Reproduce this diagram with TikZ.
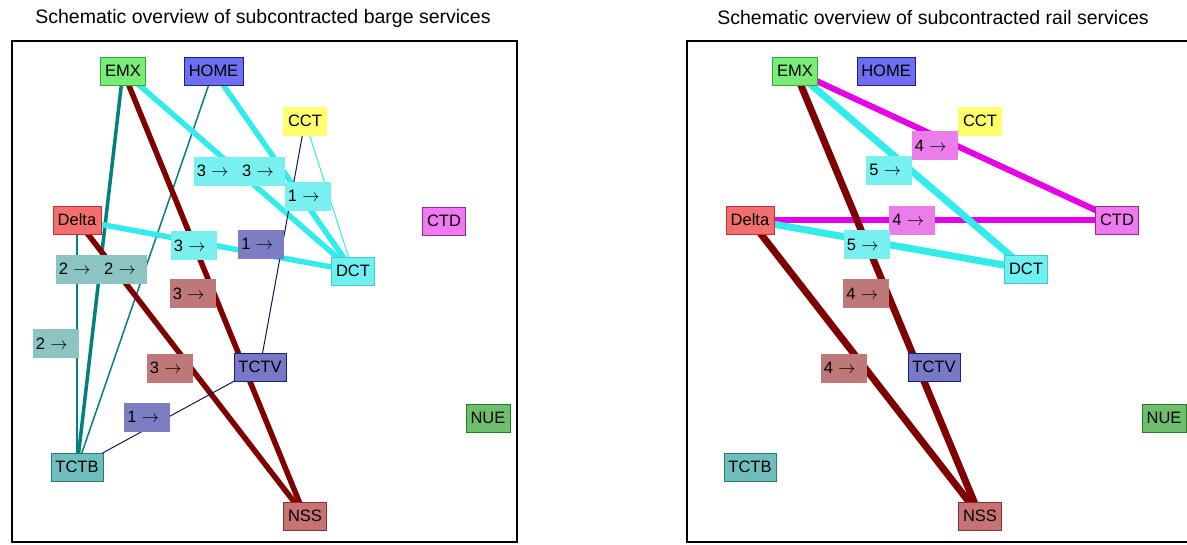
\documentclass[tikz,border=0pt]{standalone}
\usepackage{fontspec}
\setmainfont{Liberation Sans}
\usetikzlibrary{positioning,calc,backgrounds}

\definecolor{emxfill}{RGB}{120,235,120}
\definecolor{emxdraw}{RGB}{50,170,50}
\definecolor{homefill}{RGB}{110,110,240}
\definecolor{homedraw}{RGB}{30,30,130}
\definecolor{cctfill}{RGB}{255,255,110}
\definecolor{deltafill}{RGB}{245,110,110}
\definecolor{deltadraw}{RGB}{190,50,50}
\definecolor{ctdfill}{RGB}{240,120,240}
\definecolor{ctddraw}{RGB}{150,40,150}
\definecolor{dctfill}{RGB}{110,240,240}
\definecolor{dctdraw}{RGB}{70,200,200}
\definecolor{tctvfill}{RGB}{120,120,200}
\definecolor{tctvdraw}{RGB}{30,30,110}
\definecolor{tctbfill}{RGB}{110,190,190}
\definecolor{tctbdraw}{RGB}{40,120,120}
\definecolor{nssfill}{RGB}{200,115,115}
\definecolor{nssdraw}{RGB}{130,50,50}
\definecolor{nuefill}{RGB}{110,190,110}
\definecolor{nuedraw}{RGB}{40,120,40}
% connector colours
\definecolor{teallink}{RGB}{0,128,128}
\definecolor{maroonlink}{RGB}{128,0,0}
\definecolor{cyanlink}{RGB}{50,235,235}
\definecolor{navylink}{RGB}{20,20,90}
\definecolor{magentalink}{RGB}{230,0,230}
% label colours
\definecolor{tctblbl}{RGB}{140,195,195}
\definecolor{nsslbl}{RGB}{190,120,120}
\definecolor{dctlbl}{RGB}{120,240,240}
\definecolor{tctvlbl}{RGB}{125,125,195}
\definecolor{ctdlbl}{RGB}{235,125,235}

\begin{document}
\begin{tikzpicture}[
    x=1pt, y=-1pt,
    term/.style={rectangle, draw, inner xsep=4.5pt, inner ysep=0pt, minimum height=28pt, font=\fontsize{16.5}{18}\selectfont},
    lbl/.style={rectangle, inner xsep=3pt, inner ysep=0pt, text width=40pt, minimum height=29pt, align=left, anchor=east, xshift=2pt, font=\fontsize{16.5}{18}\selectfont},
    link/.style={line width=5.5pt},
    frame/.style={draw, line width=1.2pt},
    title/.style={font=\fontsize{19.5}{22}\selectfont}
]

\clip (0,0) rectangle (1187,544);

% Frames and titles
\draw[frame] (12,41) rectangle (517,542);
\draw[frame] (687,41) rectangle (1200,542);
\node[title] (btitle) at (263,18) {Schematic overview of subcontracted barge services};
\node[title] (rtitle) at (933,18) {Schematic overview of subcontracted rail services};

% Barge terminals
\node[term, fill=emxfill, draw=emxdraw] (bemx) at (123,71) {EMX};
\node[term, fill=homefill, draw=homedraw] (bhome) at (213.5,71) {HOME};
\node[term, fill=cctfill, draw=cctfill] (bcct) at (305,121) {CCT};
\node[term, fill=deltafill, draw=deltadraw] (bdelta) at (77,220) {Delta};
\node[term, fill=ctdfill, draw=ctddraw] (bctd) at (444,221) {CTD};
\node[term, fill=dctfill, draw=dctdraw] (bdct) at (353,271) {DCT};
\node[term, fill=tctvfill, draw=tctvdraw] (btctv) at (260,367) {TCTV};
\node[term, fill=tctbfill, draw=tctbdraw] (btctb) at (77,467) {TCTB};
\node[term, fill=nssfill, draw=nssdraw] (bnss) at (305,516) {NSS};
\node[term, fill=nuefill, draw=nuedraw] (bnue) at (488,418) {NUE};

% Rail terminals
\node[term, fill=emxfill, draw=emxdraw] (remx) at (795,71) {EMX};
\node[term, fill=homefill, draw=homedraw] (rhome) at (886,71) {HOME};
\node[term, fill=cctfill, draw=cctfill] (rcct) at (980,121) {CCT};
\node[term, fill=deltafill, draw=deltadraw] (rdelta) at (750,220) {Delta};
\node[term, fill=ctdfill, draw=ctddraw] (rctd) at (1117,220) {CTD};
\node[term, fill=dctfill, draw=dctdraw] (rdct) at (1026,269) {DCT};
\node[term, fill=tctvfill, draw=tctvdraw] (rtctv) at (934,367) {TCTV};
\node[term, fill=tctbfill, draw=tctbdraw] (rtctb) at (750,467) {TCTB};
\node[term, fill=nssfill, draw=nssdraw] (rnss) at (980,516) {NSS};
\node[term, fill=nuefill, draw=nuedraw] (rnue) at (1164,418) {NUE};

% Barge counts
\node[lbl, fill=tctblbl] (bl1) at ($(bemx.center)!0.5!(btctb.center)$) {2 $\rightarrow$};
\node[lbl, fill=tctblbl] (bl2) at ($(bhome.center)!0.5!(btctb.center)$) {2 $\rightarrow$};
\node[lbl, fill=tctblbl] (bl3) at ($(bdelta.center)!0.5!(btctb.center)$) {2 $\rightarrow$};
\node[lbl, fill=nsslbl] (bl4) at ($(bemx.center)!0.5!(bnss.center)$) {3 $\rightarrow$};
\node[lbl, fill=nsslbl] (bl5) at ($(bdelta.center)!0.5!(bnss.center)$) {3 $\rightarrow$};
\node[lbl, fill=dctlbl] (bl6) at ($(bemx.center)!0.5!(bdct.center)$) {3 $\rightarrow$};
\node[lbl, fill=dctlbl] (bl7) at ($(bhome.center)!0.5!(bdct.center)$) {3 $\rightarrow$};
\node[lbl, fill=dctlbl] (bl8) at ($(bdelta.center)!0.5!(bdct.center)$) {3 $\rightarrow$};
\node[lbl, fill=dctlbl] (bl9) at ($(bcct.center)!0.5!(bdct.center)$) {1 $\rightarrow$};
\node[lbl, fill=tctvlbl] (bl10) at ($(bcct.center)!0.5!(btctv.center)$) {1 $\rightarrow$};
\node[lbl, fill=tctvlbl] (bl11) at ($(btctb.center)!0.5!(btctv.center)$) {1 $\rightarrow$};

% Rail counts
\node[lbl, fill=ctdlbl] (rl1) at ($(remx.center)!0.5!(rctd.center)$) {4 $\rightarrow$};
\node[lbl, fill=ctdlbl] (rl2) at ($(rdelta.center)!0.5!(rctd.center)$) {4 $\rightarrow$};
\node[lbl, fill=dctlbl] (rl3) at ($(remx.center)!0.5!(rdct.center)$) {5 $\rightarrow$};
\node[lbl, fill=dctlbl] (rl4) at ($(rdelta.center)!0.5!(rdct.center)$) {5 $\rightarrow$};
\node[lbl, fill=nsslbl] (rl5) at ($(remx.center)!0.5!(rnss.center)$) {4 $\rightarrow$};
\node[lbl, fill=nsslbl] (rl6) at ($(rdelta.center)!0.5!(rnss.center)$) {4 $\rightarrow$};

% Connectors
\begin{scope}[on background layer]
\fill[white] (0,0) rectangle (1187,544);
\draw[link, teallink, line width=3.5pt] (bemx.center) -- (btctb.center);
\draw[link, teallink, line width=1.5pt] (bhome.center) -- (btctb.center);
\draw[link, teallink, line width=2.5pt] (bdelta.center) -- (btctb.center);
\draw[link, maroonlink] (bemx.center) -- (bnss.center);
\draw[link, maroonlink] (bdelta.center) -- (bnss.center);
\draw[link, cyanlink] (bemx.center) -- (bdct.center);
\draw[link, cyanlink] (bhome.center) -- (bdct.center);
\draw[link, cyanlink] (bdelta.center) -- (bdct.center);
\draw[link, cyanlink, line width=1pt] (bcct.center) -- (bdct.center);
\draw[link, navylink, line width=1pt] (bcct.center) -- (btctv.center);
\draw[link, navylink, line width=1pt] (btctb.center) -- (btctv.center);

\draw[link, magentalink, line width=6pt] (remx.center) -- (rctd.center);
\draw[link, magentalink, line width=6pt] (rdelta.center) -- (rctd.center);
\draw[link, cyanlink, line width=7pt] (remx.center) -- (rdct.center);
\draw[link, cyanlink, line width=7pt] (rdelta.center) -- (rdct.center);
\draw[link, maroonlink, line width=7pt] (remx.center) -- (rnss.center);
\draw[link, maroonlink, line width=7pt] (rdelta.center) -- (rnss.center);
\end{scope}

\end{tikzpicture}
\end{document}
